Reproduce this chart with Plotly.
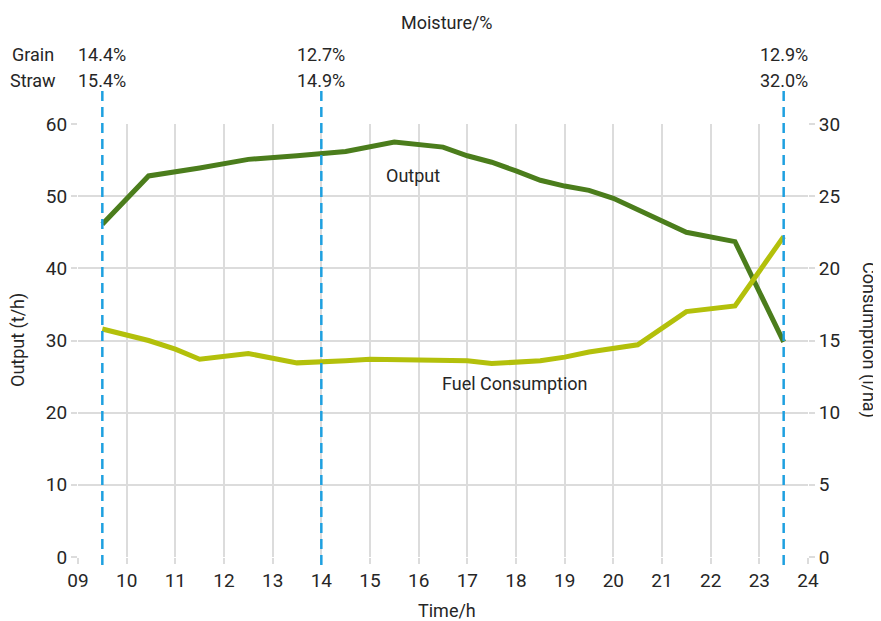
import plotly.graph_objects as go

# Data
output_time = [9.5, 10.45, 11.5, 12.5, 13.5, 14.5, 15.5, 16.0, 16.5, 17.0, 17.5, 18.0,
               18.5, 19.0, 19.5, 20.0, 20.5, 21.0, 21.5, 22.5, 23.5]
output_values = [46.1, 52.8, 53.9, 55.1, 55.6, 56.2, 57.5, 57.1, 56.8, 55.6, 54.7, 53.5,
                 52.2, 51.4, 50.8, 49.7, 48.1, 46.5, 45.0, 43.7, 29.8]

fuel_time = [9.5, 10.45, 11.0, 11.5, 12.5, 13.5, 14.5, 15.0, 16.0, 17.0, 17.5, 18.5,
             19.0, 19.5, 20.5, 21.5, 22.5, 23.5]
fuel_values = [15.8, 15.0, 14.4, 13.7, 14.1, 13.45, 13.6, 13.7, 13.65, 13.6, 13.4, 13.6,
               13.85, 14.2, 14.7, 17.0, 17.4, 22.2]

moisture_time = [9.5, 14.0, 23.5]
grain_moisture = ["14.4%", "12.7%", "12.9%"]
straw_moisture = ["15.4%", "14.9%", "32.0%"]

x_ticks = list(range(9, 25))
x_ticktext = [f"{v:02d}" for v in x_ticks]
y_left_ticks = [0, 10, 20, 30, 40, 50, 60]
y_right_ticks = [0, 5, 10, 15, 20, 25, 30]

FONT = "Roboto, Noto Sans, sans-serif"
TXT = "#262626"
GRID = "#dcdcdc"
OUT_C = "#4b7d1c"
FUEL_C = "#b3c00b"
DASH_C = "#1ea0e0"

# page body adds an 8px offset; figure pixel = screenshot pixel - 8
OFF = 8
W, H = 881 - OFF, 621 - OFF
L, R, T, B = 78 - OFF, 808 - OFF, 124 - OFF, 557 - OFF  # plot area edges (figure px)

def f(size):
    return dict(size=size, color=TXT, family=FONT, weight=400)

def px(sx):
    return (sx - OFF - L) / float(R - L)

def py(sy):
    return (B - (sy - OFF)) / float(B - T)

fig = go.Figure()
fig.add_trace(go.Scatter(x=output_time, y=output_values, mode="lines",
                         line=dict(color=OUT_C, width=5), yaxis="y", showlegend=False))
fig.add_trace(go.Scatter(x=fuel_time, y=fuel_values, mode="lines",
                         line=dict(color=FUEL_C, width=5), yaxis="y2", showlegend=False))

shapes = []
for t in moisture_time:
    shapes.append(dict(type="line", xref="x", yref="paper", x0=t, x1=t, y0=py(565), y1=py(87),
                       line=dict(color=DASH_C, width=2.5, dash="10px,6px"), layer="above"))

ann = []
def add(text, x, y, xref="paper", yref="paper", angle=0, size=18):
    ann.append(dict(text=text, xref=xref, yref=yref, x=x, y=y, xanchor="center",
                    yanchor="middle", textangle=angle, showarrow=False, font=f(size)))

add("Moisture/%", px(447), py(22))
add("Grain", px(33), py(54))
add("Straw", px(33), py(80))
for t, g, s in zip(moisture_time, grain_moisture, straw_moisture):
    add(g, t, py(54), xref="x")
    add(s, t, py(80), xref="x")
add("Output", 15.88, 52.8, xref="x", yref="y")
add("Fuel Consumption", 17.98, 24.0, xref="x", yref="y")
add("Output (t/h)", px(18), py(340), angle=-90)
add("Consumption (l/ha)", px(869), py(340), angle=90)
add("Time/h", px(447), py(610))

axis_common = dict(showline=False, zeroline=False, gridcolor=GRID, gridwidth=1.5,
                   ticks="outside", ticklen=6, tickcolor=GRID, tickwidth=1.5,
                   tickfont=f(19), automargin=False)

fig.update_layout(
    width=W, height=H,
    margin=dict(l=L, r=W - R, t=T, b=H - B),
    paper_bgcolor="white", plot_bgcolor="white",
    font=dict(family=FONT, color=TXT),
    xaxis=dict(range=[9, 24], tickvals=x_ticks, ticktext=x_ticktext, **axis_common),
    yaxis=dict(range=[0, 60], tickvals=y_left_ticks, **axis_common),
    yaxis2=dict(range=[0, 30], tickvals=y_right_ticks, overlaying="y", side="right",
                showgrid=False, showline=False, zeroline=False, ticks="outside", ticklen=6,
                tickcolor=GRID, tickwidth=1.5, tickfont=f(19), automargin=False),
    shapes=shapes, annotations=ann,
)

fig.write_html("out.html")
